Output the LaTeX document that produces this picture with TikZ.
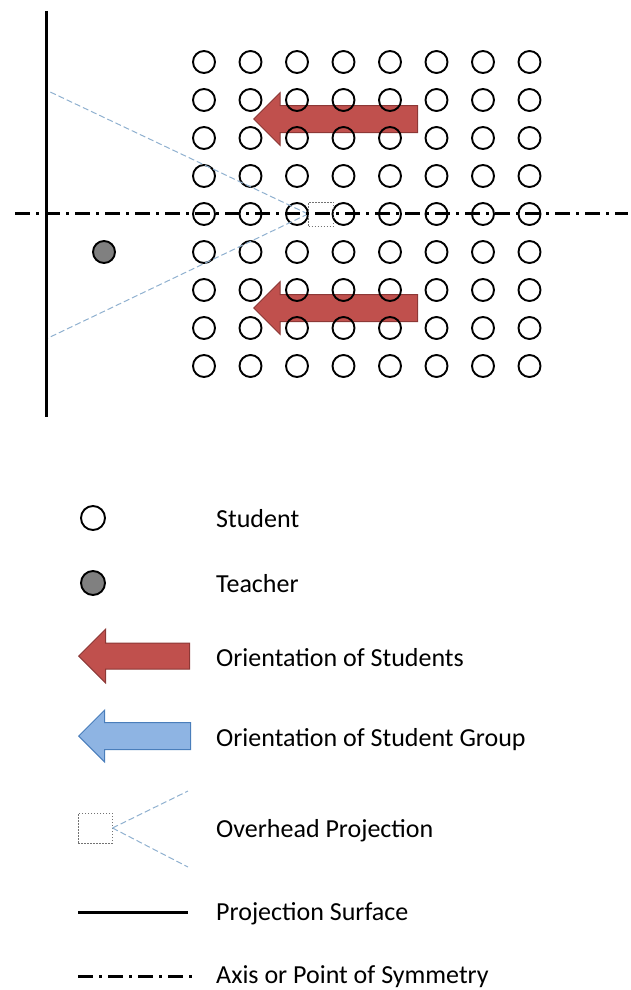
\documentclass[tikz,border=0pt]{standalone}
\usepackage{fontspec}
\setmainfont{Carlito}
\usetikzlibrary{shapes.arrows}
\definecolor{arrowred}{HTML}{C0504D}
\definecolor{arrowredline}{HTML}{8C3836}
\definecolor{groupblue}{HTML}{8EB4E3}
\definecolor{groupblueline}{HTML}{4A7EBB}
\definecolor{beamblue}{HTML}{8FB0CF}
\tikzset{
  student/.style={circle,draw=black,line width=1.9pt,minimum size=22pt,inner sep=0pt},
  teacher/.style={student,fill=black!50},
  orient/.style={single arrow,shape border rotate=180,anchor=tip,inner xsep=0pt,inner ysep=13pt,
    draw=arrowredline,fill=arrowred,line width=1pt,single arrow head extend=13pt},
  grouporient/.style={orient,draw=groupblueline,fill=groupblue},
  projector/.style={rectangle,draw=black!55,line width=1pt,dash pattern=on 1.5pt off 1.5pt,inner sep=0pt},
  beam/.style={draw=beamblue,line width=1pt,dash pattern=on 6pt off 3pt},
  surface/.style={line width=3pt},
  axis/.style={line width=3pt,dash pattern=on 15pt off 6pt on 3pt off 6pt},
  legendtext/.style={anchor=base west,inner sep=0pt,font=\fontsize{26}{30}\selectfont}
}
\begin{document}
\begin{tikzpicture}[x=1pt,y=-1pt]
\useasboundingbox (0,0) rectangle (630,990);
% classroom
\node[orient,minimum height=164pt] (o1) at (253,119) {};
\node[orient,minimum height=164pt] (o2) at (253,308) {};
\foreach \c in {0,...,7}
  \foreach \r in {0,...,8}
    \node[student] (s-\c-\r) at ({204+46.5*\c},{62+38*\r}) {};
\node[teacher] (t) at (104,252) {};
\node[projector,minimum width=25pt,minimum height=24pt] (p) at (321,214) {};
\coordinate (w1) at (46,90);
\coordinate (w2) at (46,339);
\draw[beam] (p.west)--(w1) (p.west)--(w2);
\coordinate (top) at (46,11);
\coordinate (bot) at (46,417);
\draw[surface] (top)--(bot);
\coordinate (al) at (15,213);
\coordinate (ar) at (628,213);
\draw[axis] (al)--(ar);
% legend
\node[student,minimum size=24pt] (ls) at (93,518) {};
\node[legendtext] (lst) at (216,527) {Student};
\node[teacher,minimum size=24pt] (lt) at (93,583) {};
\node[legendtext] (ltt) at (216,592) {Teacher};
\node[orient,minimum height=111pt,inner ysep=12.5pt,single arrow head extend=14pt] (lo) at (78,656) {};
\node[legendtext] (lot) at (216,666) {Orientation of Students};
\node[grouporient,minimum height=112pt,inner ysep=13pt,single arrow head extend=12.5pt] (lg) at (78,736) {};
\node[legendtext] (lgt) at (216,746) {Orientation of Student Group};
\node[projector,minimum width=34pt,minimum height=30pt] (lp) at (95,828) {};
\coordinate (lb1) at (188,791);
\coordinate (lb2) at (188,867);
\draw[beam] (lp.east)--(lb1) (lp.east)--(lb2);
\node[legendtext] (lpt) at (216,837) {Overhead Projection};
\coordinate (lsa) at (78,912);
\coordinate (lsb) at (188,912);
\draw[surface] (lsa)--(lsb);
\node[legendtext] (lsft) at (216,920) {Projection Surface};
\coordinate (laa) at (78,976);
\coordinate (lab) at (192,976);
\draw[axis] (laa)--(lab);
\node[legendtext] (lat) at (216,983) {Axis or Point of Symmetry};
\end{tikzpicture}
\end{document}
